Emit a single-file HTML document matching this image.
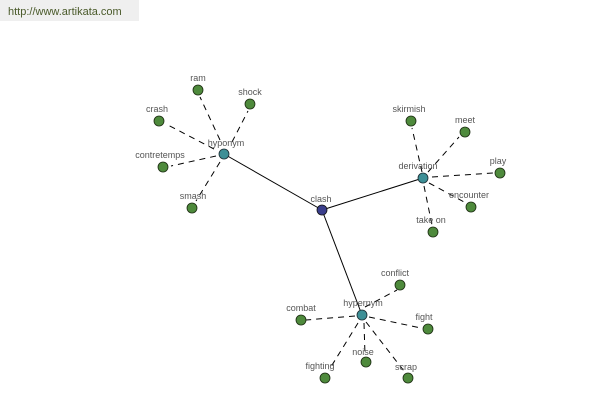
<!DOCTYPE html>
<html><head><meta charset="utf-8"><style>
html,body{margin:0;padding:0;background:#fff;width:600px;height:400px;overflow:hidden}
svg text{font-family:"Liberation Sans",sans-serif;font-size:9px;fill:#555;text-anchor:middle}
</style></head><body>
<svg width="600" height="400" viewBox="0 0 600 400" xmlns="http://www.w3.org/2000/svg">
<rect x="0" y="0" width="139" height="21" fill="#efefef"/>
<text x="8" y="15" style="text-anchor:start;font-size:11px;fill:#4a5a2a">http://www.artikata.com</text>
<g stroke="#000" stroke-width="1">
<line x1="322" y1="210" x2="224" y2="154"/>
<line x1="322" y1="210" x2="423" y2="178"/>
<line x1="322" y1="210" x2="362" y2="315"/>
</g>
<g stroke="#000" stroke-width="1" stroke-dasharray="6,5">
<line x1="220" y1="140" x2="200" y2="97"/>
<line x1="232" y1="142" x2="248" y2="111"/>
<line x1="214" y1="149" x2="166" y2="124"/>
<line x1="216" y1="156" x2="171" y2="166"/>
<line x1="220" y1="162" x2="196" y2="201"/>
<line x1="422" y1="172" x2="412" y2="128"/>
<line x1="428" y1="172" x2="459" y2="137"/>
<line x1="432" y1="177" x2="493" y2="173"/>
<line x1="429" y1="183" x2="466" y2="203"/>
<line x1="424" y1="186" x2="432" y2="225"/>
<line x1="365" y1="307" x2="397" y2="290"/>
<line x1="355" y1="316" x2="306" y2="320"/>
<line x1="369" y1="317" x2="421" y2="328"/>
<line x1="358" y1="323" x2="329" y2="370"/>
<line x1="364" y1="323" x2="365" y2="355"/>
<line x1="366" y1="322" x2="404" y2="371"/>
</g>
<g stroke="#1a2a10" stroke-width="0.8" fill="#4e8a3c">
<circle cx="198" cy="90" r="5"/><circle cx="250" cy="104" r="5"/><circle cx="159" cy="121" r="5"/>
<circle cx="163" cy="167" r="5"/><circle cx="192" cy="208" r="5"/>
<circle cx="411" cy="121" r="5"/><circle cx="465" cy="132" r="5"/><circle cx="500" cy="173" r="5"/>
<circle cx="471" cy="207" r="5"/><circle cx="433" cy="232" r="5"/>
<circle cx="400" cy="285" r="5"/><circle cx="301" cy="320" r="5"/><circle cx="428" cy="329" r="5"/>
<circle cx="325" cy="378" r="5"/><circle cx="366" cy="362" r="5"/><circle cx="408" cy="378" r="5"/>
</g>
<g stroke="#1a2a30" stroke-width="0.8" fill="#3d8f96">
<circle cx="224" cy="154" r="5"/><circle cx="423" cy="178" r="5"/><circle cx="362" cy="315" r="5"/>
</g>
<circle cx="322" cy="210" r="5" fill="#3a3e8c" stroke="#111" stroke-width="0.8"/>
<text x="198" y="81">ram</text><text x="250" y="95">shock</text><text x="157" y="112">crash</text>
<text x="160" y="158">contretemps</text><text x="193" y="199">smash</text><text x="226" y="146">hyponym</text>
<text x="321" y="202">clash</text>
<text x="409" y="112">skirmish</text><text x="465" y="123">meet</text><text x="498" y="164">play</text>
<text x="469" y="198">encounter</text><text x="431" y="223">take on</text><text x="418" y="169">derivation</text>
<text x="395" y="276">conflict</text><text x="301" y="311">combat</text><text x="424" y="320">fight</text>
<text x="320" y="369">fighting</text><text x="363" y="355">noise</text><text x="406" y="370">scrap</text>
<text x="363" y="306">hypernym</text>
</svg>
</body></html>
